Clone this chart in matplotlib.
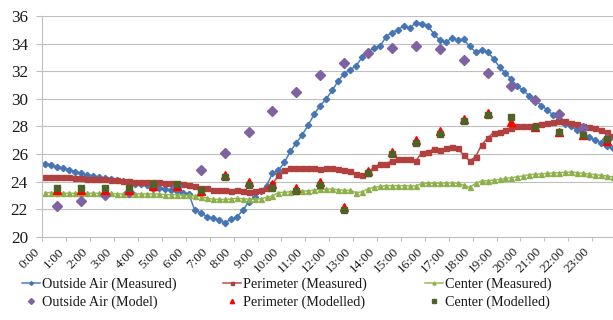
import numpy as np
import matplotlib
matplotlib.use('Agg')
import matplotlib.pyplot as plt

plt.rcParams['font.family'] = 'Liberation Serif'

# measured every 15 min, models every hour (at hh:30)
hours = ['%d:00' % h for h in range(24)]

outside_measured = [25.3, 25.2, 25.05, 25.0, 24.85, 24.7, 24.6, 24.45,
                    24.4, 24.3, 24.25, 24.15, 24.1, 24.05, 23.95, 23.85,
                    23.8, 23.75, 23.65, 23.55, 23.45, 23.35, 23.3, 23.2,
                    23.1, 21.9, 21.75, 21.45, 21.35, 21.2, 21.0, 21.25,
                    21.4, 21.9, 22.5, 22.9, 23.3, 23.7, 24.6, 24.8,
                    25.4, 26.2, 26.8, 27.4, 28.1, 28.9, 29.5, 30.0,
                    30.6, 31.3, 31.8, 32.1, 32.4, 33.0, 33.4, 33.7,
                    33.8, 34.5, 34.8, 35.0, 35.3, 35.15, 35.5, 35.45,
                    35.3, 34.7, 34.25, 34.1, 34.4, 34.25, 34.3, 33.8,
                    33.4, 33.5, 33.4, 32.9, 32.3, 31.85, 31.4, 30.9,
                    30.6, 30.2, 29.9, 29.5, 29.2, 28.8, 28.5, 28.2,
                    28.0, 27.7, 27.5, 27.2, 27.0, 26.8, 26.6, 26.4]

perimeter_measured = [24.35, 24.35, 24.3, 24.3, 24.3, 24.25, 24.25, 24.2,
                      24.2, 24.15, 24.15, 24.1, 24.1, 24.05, 24.05, 24.0,
                      24.0, 24.0, 23.95, 23.95, 23.9, 23.9, 23.85, 23.8,
                      23.75, 23.65, 23.55, 23.5, 23.4, 23.35, 23.35, 23.3,
                      23.35, 23.3, 23.25, 23.3, 23.35, 23.5, 23.8, 24.45,
                      24.85, 24.95, 24.95, 24.95, 25.0, 25.0, 24.9, 24.95,
                      24.95, 24.9, 24.8, 24.75, 24.55, 24.45, 24.65, 25.05,
                      25.25, 25.3, 25.5, 25.6, 25.6, 25.6, 25.5, 26.1,
                      26.15, 26.35, 26.25, 26.45, 26.5, 26.45, 25.9, 25.5,
                      25.8, 26.65, 27.15, 27.55, 27.6, 27.7, 27.85, 28.0,
                      28.0, 28.0, 28.1, 28.2, 28.25, 28.35, 28.4, 28.4,
                      28.25, 28.15, 28.05, 27.95, 27.85, 27.75, 27.6, 27.3]

center_measured = [23.2, 23.2, 23.2, 23.15, 23.15, 23.15, 23.15, 23.15,
                   23.15, 23.15, 23.15, 23.15, 23.1, 23.1, 23.1, 23.1,
                   23.1, 23.1, 23.1, 23.1, 23.05, 23.05, 23.05, 23.0,
                   23.0, 22.95, 22.9, 22.8, 22.72, 22.7, 22.7, 22.72,
                   22.78, 22.75, 22.72, 22.72, 22.75, 22.85, 22.95, 23.2,
                   23.22, 23.26, 23.28, 23.3, 23.32, 23.38, 23.43, 23.45,
                   23.45, 23.4, 23.36, 23.36, 23.2, 23.25, 23.48, 23.58,
                   23.65, 23.7, 23.7, 23.7, 23.7, 23.68, 23.68, 23.86,
                   23.88, 23.88, 23.88, 23.9, 23.9, 23.88, 23.74, 23.58,
                   23.86, 24.04, 24.06, 24.1, 24.15, 24.22, 24.27, 24.35,
                   24.4, 24.5, 24.52, 24.55, 24.59, 24.62, 24.64, 24.67,
                   24.69, 24.64, 24.6, 24.54, 24.5, 24.45, 24.4, 24.33]

outside_model = [22.2, 22.6, 23.0, 23.25, 23.6, 23.7, 24.8, 26.1, 27.6, 29.1,
                 30.5, 31.7, 32.6, 33.3, 33.7, 33.8, 33.6, 32.8, 31.9, 30.9,
                 29.9, 28.9, 27.9, 27.1]
perimeter_model = [23.4, 23.35, 23.35, 23.4, 23.65, 23.65, 23.3, 24.45, 23.95,
                   23.85, 23.55, 23.95, 22.15, 24.75, 26.15, 27.0, 27.65,
                   28.55, 28.95, 28.35, 27.95, 27.6, 27.35, 26.95]
center_model = [23.55, 23.5, 23.5, 23.55, 23.8, 23.8, 23.35, 24.3, 23.75,
                23.55, 23.3, 23.75, 21.95, 24.6, 26.0, 26.8, 27.45, 28.4,
                28.85, 28.7, 27.95, 27.6, 27.35, 27.1]

x = np.arange(len(outside_measured))          # 15 min categories
xm = np.arange(len(outside_model)) * 4 + 2    # hh:30 categories

fig = plt.figure(figsize=(6.13, 3.2), dpi=100)
ax = fig.add_axes([0.0693, 0.2603, 0.9356, 0.6897])

h1, = ax.plot(x, outside_measured, color='#4A7EBB', lw=1.1, marker='D', ms=3.2,
              mfc='#4674B4', mec='#4674B4', label='Outside Air (Measured)')
h2, = ax.plot(x, perimeter_measured, color='#BE4B48', lw=1.1, marker='s', ms=3.6,
              mfc='#B0413E', mec='#B0413E', label='Perimeter (Measured)')
h3, = ax.plot(x, center_measured, color='#9BBB59', lw=1.1, marker='^', ms=3.6,
              mfc='#8DB04C', mec='#8DB04C', label='Center (Measured)')
h4, = ax.plot(xm, outside_model, ls='none', marker='D', ms=5.0,
              color='#7E62A1', label='Outside Air (Model)')
h5, = ax.plot(xm, perimeter_model, ls='none', marker='^', ms=5.2,
              color='#FF0000', label='Perimeter (Modelled)')
h6, = ax.plot(xm, center_model, ls='none', marker='s', ms=4.4,
              color='#4F6228', label='Center (Modelled)')

ax.set_xlim(-0.5, 95.5)
ax.set_ylim(20, 36)
ax.set_yticks(np.arange(20, 37, 2))
ax.set_xticks(np.arange(24) * 4 - 0.5)
ax.set_xticklabels(hours, rotation=45, ha='right')
ax.grid(axis='y', color='#BFBFBF', lw=0.8)
ax.set_axisbelow(True)
for s in ['top', 'right']:
    ax.spines[s].set_visible(False)
for s in ['left', 'bottom']:
    ax.spines[s].set_color('#BFBFBF')
    ax.spines[s].set_linewidth(0.8)
ax.tick_params(axis='y', labelsize=12.3, length=4.5, color='#BFBFBF', pad=6,
               labelcolor='#1a1a1a')
ax.tick_params(axis='x', labelsize=9.5, length=3, color='#BFBFBF', pad=3.5,
               labelcolor='#1a1a1a')

# one legend per column, like the excel layout
cols = [([h1, h4], 22), ([h2, h5], 223), ([h3, h6], 425)]
for handles, xpix in cols:
    fig.legend(handles=handles, loc='upper left',
               bbox_to_anchor=(xpix / 613, 1 - 278 / 320), frameon=False,
               fontsize=10.2, handlelength=1.3, handletextpad=0.1,
               labelspacing=0.3, borderpad=0, borderaxespad=0,
               markerscale=0.6, labelcolor='#1a1a1a')

fig.savefig('out.png', dpi=100)
